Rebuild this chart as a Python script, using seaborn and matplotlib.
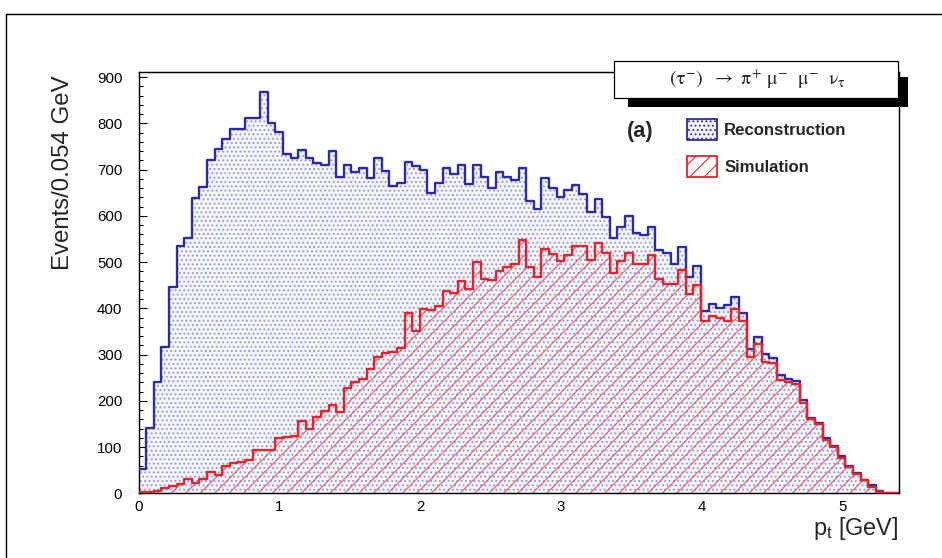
import numpy as np
import pandas as pd
import matplotlib
matplotlib.use("Agg")
import matplotlib.pyplot as plt
import matplotlib.patches as mpatches
from matplotlib.lines import Line2D
from matplotlib.ticker import MultipleLocator
import seaborn as sns

# ---------------- data ----------------
x_min, x_max, n_bins = 0.0, 5.4, 100

reconstruction = [
    52, 141, 241, 317, 447, 536, 552, 638, 663, 720,
    745, 766, 789, 789, 811, 811, 869, 802, 782, 735,
    726, 743, 726, 714, 710, 741, 684, 710, 694, 703,
    683, 726, 697, 664, 672, 716, 707, 699, 649, 671,
    703, 690, 710, 670, 710, 685, 661, 696, 685, 678,
    703, 633, 614, 683, 661, 642, 656, 667, 647, 609,
    637, 597, 552, 575, 599, 563, 559, 575, 527, 520,
    497, 532, 467, 491, 394, 410, 401, 408, 424, 391,
    312, 338, 302, 292, 256, 247, 242, 202, 163, 151,
    120, 103, 80, 60, 44, 29, 17, 5, 0, 0,
]

simulation = [
    3, 3, 6, 11, 16, 21, 30, 23, 32, 47,
    40, 59, 66, 67, 71, 93, 93, 94, 120, 121,
    125, 157, 139, 164, 178, 190, 176, 228, 240, 248,
    268, 295, 304, 306, 314, 390, 352, 398, 396, 405,
    437, 434, 460, 441, 500, 464, 462, 480, 490, 497,
    548, 489, 467, 528, 518, 503, 515, 534, 534, 504,
    541, 520, 477, 502, 520, 495, 495, 516, 464, 452,
    452, 484, 431, 450, 373, 383, 380, 373, 398, 373,
    295, 324, 285, 281, 245, 240, 236, 195, 161, 149,
    116, 100, 77, 57, 41, 28, 14, 3, 1, 0,
]

x_ticks = [0, 1, 2, 3, 4, 5]
y_ticks = [0, 100, 200, 300, 400, 500, 600, 700, 800, 900]
y_max = 912

series_labels = ["Reconstruction", "Simulation"]
title_text = r"$\mathrm{(\tau^{-})\ \ \rightarrow\ \pi^{+}\ \mu^{-}\ \ \mu^{-}\ \ \nu_{\tau}}$"

# ---------------- style ----------------
sns.set_theme(style="white")
plt.rcParams["font.family"] = ["Liberation Sans", "DejaVu Sans"]
plt.rcParams["mathtext.fontset"] = "custom"
plt.rcParams["mathtext.rm"] = "Liberation Sans"
plt.rcParams["mathtext.it"] = "Liberation Sans:italic"
plt.rcParams["mathtext.bf"] = "Liberation Sans:bold"
plt.rcParams["hatch.linewidth"] = 0.6

BLUE = "#2b2ba6"
BLUE_DOTS = "#9494cc"
RED = "#e3242b"
RED_HATCH = "#e45a66"

DPI = 130
W, H = 942, 558
fig = plt.figure(figsize=(W / DPI, H / DPI), dpi=DPI)
fig.patch.set_facecolor("white")

ax_l, ax_r, ax_t, ax_b = 138.6, 898.5, 71.7, 493.3
ax = fig.add_axes([ax_l / W, 1 - ax_b / H, (ax_r - ax_l) / W, (ax_b - ax_t) / H])

edges = np.linspace(x_min, x_max, n_bins + 1)
centers = 0.5 * (edges[:-1] + edges[1:])
df = pd.DataFrame({"pt": centers, "rec": reconstruction, "sim": simulation})
hist_kw = dict(data=df, x="pt", bins=n_bins, binrange=(x_min, x_max),
               element="step", ax=ax)

# Reconstruction: dotted fill + outline
sns.histplot(weights="rec", fill=True, color=BLUE_DOTS, facecolor="#f3f3fa",
             edgecolor=BLUE_DOTS, hatch=".....", linewidth=0, zorder=1, **hist_kw)
sns.histplot(weights="rec", fill=False, color=BLUE, linewidth=1.3, zorder=3, **hist_kw)
# Simulation: hatched fill + outline
sns.histplot(weights="sim", fill=True, color=RED_HATCH, facecolor=(1, 1, 1, 0),
             edgecolor=RED_HATCH, hatch="///", linewidth=0, zorder=2, **hist_kw)
sns.histplot(weights="sim", fill=False, color=RED, linewidth=1.3, zorder=4, **hist_kw)

ax.set_xlim(x_min, x_max)
ax.set_ylim(0, y_max)
ax.set_xticks(x_ticks)
ax.set_yticks(y_ticks)
ax.xaxis.set_minor_locator(MultipleLocator(0.2))
ax.yaxis.set_minor_locator(MultipleLocator(20))
ax.tick_params(axis="both", which="both", direction="in", colors="black",
               width=0.6, bottom=True, left=True, top=False, right=False)
ax.tick_params(axis="both", which="major", length=4.6, labelsize=8.3)
ax.tick_params(axis="both", which="minor", length=2.3)
ax.tick_params(axis="y", which="major", pad=9)
ax.tick_params(axis="x", which="major", pad=3.8)
for sp in ax.spines.values():
    sp.set_color("black")
    sp.set_linewidth(0.8)
    sp.set_visible(True)

ax.set_ylabel("Events/0.054 GeV", fontsize=13.3, loc="top")
ax.yaxis.set_label_coords((63 - ax_l) / (ax_r - ax_l), (ax_b - 75) / (ax_b - ax_t))
ax.yaxis.label.set_verticalalignment("center")
ax.set_xlabel(r"$\mathregular{p_{t}}$ [GeV]", fontsize=13, loc="right")
ax.xaxis.set_label_coords(1.0, (ax_b - 528) / (ax_b - ax_t))
ax.xaxis.label.set_verticalalignment("center")


def fx(px):
    return px / W


def fy(py):
    return 1 - py / H


# outer canvas frame (partially visible)
fig.add_artist(Line2D([fx(6), fx(6)], [fy(14), -0.1], color="black", lw=0.8,
                      transform=fig.transFigure))
fig.add_artist(Line2D([fx(6), 1.1], [fy(14), fy(14)], color="black", lw=0.8,
                      transform=fig.transFigure))

# title box with shadow
fig.add_artist(mpatches.Rectangle((fx(628), fy(107)), fx(908) - fx(628), fy(98) - fy(107),
                                  transform=fig.transFigure, facecolor="black",
                                  edgecolor="none", zorder=10))
fig.add_artist(mpatches.Rectangle((fx(898), fy(107)), fx(908) - fx(898), fy(77) - fy(107),
                                  transform=fig.transFigure, facecolor="black",
                                  edgecolor="none", zorder=10))
fig.add_artist(mpatches.Rectangle((fx(614), fy(98)), fx(898) - fx(614), fy(61) - fy(98),
                                  transform=fig.transFigure, facecolor="white",
                                  edgecolor="black", lw=0.7, zorder=11))
fig.text(fx(757), fy(79), title_text, ha="center", va="center", fontsize=11,
         math_fontfamily="stix", zorder=12)

# panel label
fig.text(fx(640), fy(132), "(a)", ha="center", va="center", fontsize=12,
         fontweight="bold", zorder=12)

# legend
handles = [
    mpatches.Patch(facecolor="#f3f3fa", edgecolor=BLUE, hatch=".....", linewidth=1.0),
    mpatches.Patch(facecolor="white", edgecolor=RED, hatch="///", linewidth=1.0),
]
leg = ax.legend(handles, series_labels, loc="upper left",
                bbox_to_anchor=(fx(687), fy(119)), bbox_transform=fig.transFigure,
                frameon=False, borderpad=0, borderaxespad=0,
                handlelength=1.8, handleheight=1.56, handletextpad=0.42,
                labelspacing=0.93, prop={"weight": "bold", "size": 9.3})

fig.savefig("out.png", dpi=DPI, facecolor="white")
